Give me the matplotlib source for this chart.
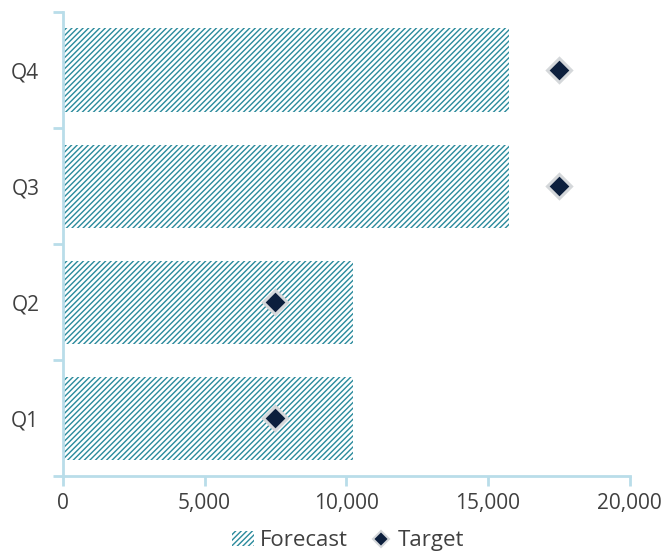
import matplotlib
matplotlib.use("Agg")
import matplotlib.pyplot as plt
from matplotlib.patches import Patch
from matplotlib.lines import Line2D
import numpy as np

HATCH_C, TARGET_C, AXIS_C, INK = "#2a8a9c", "#0c1f3d", "#b9dde9", "#404040"

quarters = ["Q1", "Q2", "Q3", "Q4"]
forecast = [10250, 10250, 15750, 15750]
target = [7500, 7500, 17500, 17500]

plt.rcParams["font.family"] = ["Open Sans", "DejaVu Sans"]
plt.rcParams["hatch.linewidth"] = 1.0
plt.rcParams["hatch.color"] = HATCH_C

fig = plt.figure(figsize=(6.69, 5.56), dpi=100)
ax = fig.add_axes([0.094, 0.143, 0.847, 0.835])

y = np.arange(len(quarters))
ax.barh(y, forecast, height=0.72, color="white", edgecolor=HATCH_C,
        linewidth=0, hatch="//////", zorder=2)
ax.plot(target, y, linestyle="none", marker="D", markersize=12.5,
        markerfacecolor=TARGET_C, markeredgecolor="#d4d7da",
        markeredgewidth=2.2, zorder=3)

ax.set_xlim(0, 20000)
ax.set_ylim(-0.5, 3.5)
ax.set_xticks(np.arange(0, 20001, 5000))
ax.set_xticklabels([f"{v:,}" for v in range(0, 20001, 5000)])
ax.set_yticks(y)
ax.set_yticklabels(quarters)
ax.set_yticks(np.arange(-0.5, 3.6, 1), minor=True)
ax.tick_params(axis="y", which="major", length=0, pad=17, labelsize=15,
               labelcolor=INK)
ax.tick_params(axis="y", which="minor", length=7, width=2, color=AXIS_C)
ax.tick_params(axis="x", length=7, width=2, color=AXIS_C, pad=5,
               labelsize=15, labelcolor=INK)

for sp in ("top", "right"):
    ax.spines[sp].set_visible(False)
for sp in ("left", "bottom"):
    ax.spines[sp].set_color(AXIS_C)
    ax.spines[sp].set_linewidth(2)

handles = [Patch(facecolor="white", edgecolor=HATCH_C, hatch="//////",
                 linewidth=0, label="Forecast"),
           Line2D([], [], linestyle="none", marker="D", markersize=8.5,
                  markerfacecolor=TARGET_C, markeredgecolor="#d4d7da",
                  markeredgewidth=1.5, label="Target")]
fig.legend(handles=handles, loc="center", bbox_to_anchor=(0.52, 0.027),
           ncol=2, frameon=False, fontsize=16, labelcolor=INK,
           handlelength=1.0, handletextpad=0.25, columnspacing=1.0)

fig.savefig("out.png", dpi=100)
